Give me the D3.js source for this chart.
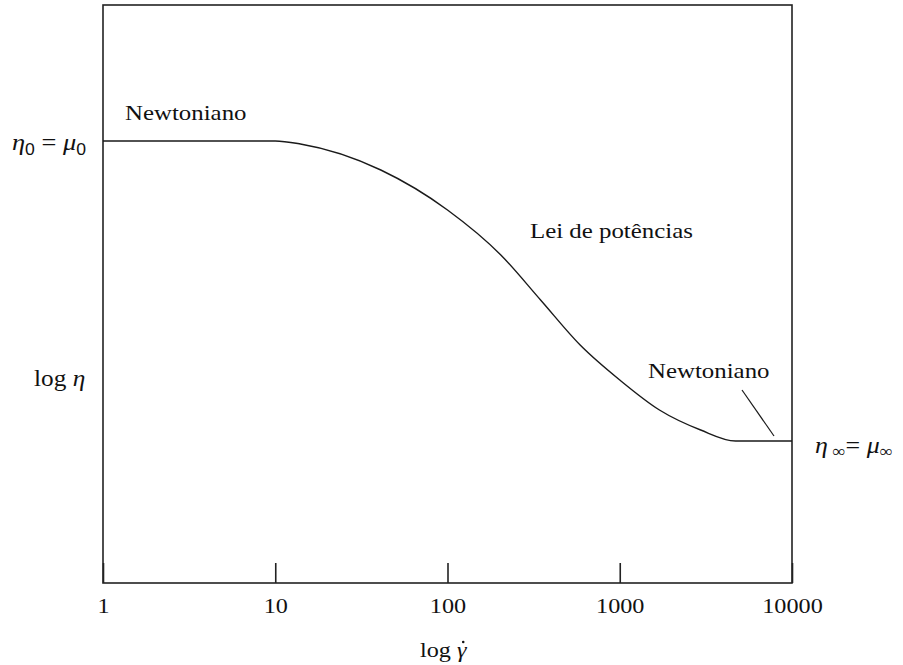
<!DOCTYPE html>
<html>
<head>
<meta charset="utf-8">
<script src="https://cdn.jsdelivr.net/npm/d3@7"></script>
<style>
  html, body { margin: 0; padding: 0; background: #fff; }
  svg { display: block; }
  text { font-family: "Liberation Serif", "DejaVu Serif", serif; fill: #111; }
</style>
</head>
<body>
<svg id="chart" width="903" height="665"></svg>
<script>
// Shear rate (log axis) and log viscosity along the flow curve
const shearRates = [1, 10, 14, 41, 100, 204, 347, 589, 1000, 1700, 2950, 4700, 10000];
const logViscosity = [3, 3, 2.97, 2.71, 2.31, 1.86, 1.41, 0.96, 0.61, 0.31, 0.11, 0, 0];
const tickValues = [1, 10, 100, 1000, 10000];
const tickLabels = ["1", "10", "100", "1000", "10000"];

const svg = d3.select("#chart");
const plot = { left: 103, right: 792, top: 5, bottom: 583 };

const x = d3.scaleLog().domain([1, 10000]).range([plot.left, plot.right]);
const y = d3.scaleLinear().domain([-1.42, 4.36]).range([plot.bottom, plot.top]);

// frame
svg.append("rect")
  .attr("x", plot.left).attr("y", plot.top)
  .attr("width", plot.right - plot.left).attr("height", plot.bottom - plot.top)
  .attr("fill", "none").attr("stroke", "#222").attr("stroke-width", 1.6);

// bottom axis with inward ticks
const axis = d3.axisBottom(x)
  .tickValues(tickValues)
  .tickSize(-20)
  .tickPadding(0)
  .tickFormat((d, i) => tickLabels[i]);
const gx = svg.append("g").attr("transform", `translate(0,${plot.bottom})`).call(axis);
gx.select(".domain").remove();
gx.selectAll(".tick line").attr("stroke", "#222").attr("stroke-width", 1.6);
gx.selectAll(".tick text").remove();
gx.selectAll(".tick").append("text")
  .attr("text-anchor", "middle")
  .attr("transform", "translate(0,30) scale(1.1,1)")
  .attr("font-size", 22)
  .attr("fill", "#111")
  .style("font-family", '"Liberation Serif", serif')
  .text((d, i) => tickLabels[i]);

// flow curve
const line = d3.line()
  .x((d, i) => x(shearRates[i]))
  .y(d => y(d))
  .curve(d3.curveMonotoneX);
svg.append("path")
  .datum(logViscosity)
  .attr("d", line)
  .attr("fill", "none")
  .attr("stroke", "#1a1a1a")
  .attr("stroke-width", 1.4);

// stretched serif text helper
function label(tx, ty, str, opts = {}) {
  const t = svg.append("text")
    .attr("transform", `translate(${tx},${ty}) scale(${opts.sx || 1.13},1)`)
    .attr("font-size", opts.size || 22)
    .attr("text-anchor", opts.anchor || "start");
  if (opts.italic) t.attr("font-style", "italic");
  return t.text(str);
}

label(125, 120, "Newtoniano");
label(530, 238, "Lei de potências");
label(648, 378, "Newtoniano");

// pointer from the label to the high-shear plateau
svg.append("line")
  .attr("x1", 742).attr("y1", 390).attr("x2", 774).attr("y2", 436)
  .attr("stroke", "#1a1a1a").attr("stroke-width", 1.2);

// y-axis annotations
const eta0 = svg.append("text")
  .attr("transform", `translate(12,${y(3) + 9}) scale(1.1,1)`)
  .attr("font-size", 24);
eta0.append("tspan").attr("font-style", "italic").text("η");
eta0.append("tspan").attr("font-size", 16).attr("dy", 5).style("font-family", '"Liberation Sans", sans-serif').text("0");
eta0.append("tspan").attr("dy", -5).text(" = ");
eta0.append("tspan").attr("font-style", "italic").text("μ");
eta0.append("tspan").attr("font-size", 16).attr("dy", 5).style("font-family", '"Liberation Sans", sans-serif').text("0");

const logEta = svg.append("text")
  .attr("transform", `translate(34,386) scale(1.1,1)`)
  .attr("font-size", 23);
logEta.append("tspan").text("log ");
logEta.append("tspan").attr("font-style", "italic").text("η");

const etaInf = svg.append("text")
  .attr("transform", `translate(815,${y(0) + 12}) scale(1.08,1)`)
  .attr("font-size", 24);
etaInf.append("tspan").attr("font-style", "italic").text("η");
etaInf.append("tspan").attr("font-size", 17).attr("dy", 4).text(" ∞");
etaInf.append("tspan").attr("dy", -4).text("= ");
etaInf.append("tspan").attr("font-style", "italic").text("μ");
etaInf.append("tspan").attr("font-size", 17).attr("dy", 4).text("∞");

// x-axis title: log of shear rate, gamma with a dot above
const xt = svg.append("text")
  .attr("transform", `translate(420,657) scale(1.1,1)`)
  .attr("font-size", 22);
xt.append("tspan").text("log ");
const gam = xt.append("tspan").attr("font-style", "italic").text("γ");
const gb = gam.node().getBoundingClientRect();
svg.append("circle")
  .attr("cx", gb.left + gb.width * 0.6)
  .attr("cy", gb.top + 5)
  .attr("r", 1.3)
  .attr("fill", "#111");
</script>
</body>
</html>
